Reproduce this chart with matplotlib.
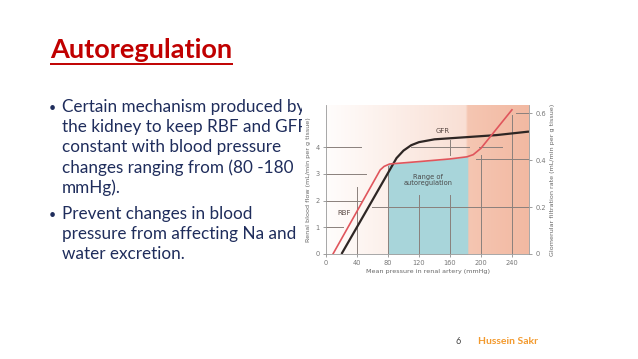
import numpy as np
import matplotlib
matplotlib.use("Agg")
import matplotlib.pyplot as plt
from matplotlib.colors import LinearSegmentedColormap

# ---------------- data ----------------
title = "Autoregulation"
bullets = [
    ["Certain mechanism produced by", "the kidney to keep RBF and GFR", "constant with blood pressure",
     "changes ranging from (80 -180", "mmHg)."],
    ["Prevent changes in blood", "pressure from affecting Na and", "water excretion."],
]
page_number = "6"
author = "Hussein Sakr"

# RBF (left axis, mL/min per g tissue) vs mean renal artery pressure (mmHg)
rbf_pressure = [9, 40, 70, 75, 82, 120, 160, 182, 190, 200, 240]
rbf_flow = [0.0, 1.6, 3.15, 3.28, 3.37, 3.46, 3.56, 3.64, 3.72, 3.96, 5.4]
# GFR (right axis, mL/min per g tissue)
gfr_pressure = [20, 50, 91, 100, 110, 120, 140, 180, 220, 262]
gfr_rate = [0.0, 0.172, 0.408, 0.440, 0.463, 0.476, 0.488, 0.497, 0.506, 0.521]

autoreg_range = [80, 183]
x_ticks = [0, 40, 80, 120, 160, 200, 240]
y_left_ticks = [0, 1, 2, 3, 4]
y_right_ticks = [0, 0.2, 0.4, 0.6]
y_right_labels = ["0", "0.2", "0.4", "0.6"]

W, H = 638, 359
fig = plt.figure(figsize=(W / 100, H / 100), dpi=100)
fig.patch.set_facecolor("white")

def fx(px):
    return px / W

def fy(py):
    return 1 - py / H

# ---------- slide text (background layer) ----------
bg = fig.add_axes([0, 0, 1, 1], zorder=0)
bg.set_xlim(0, W)
bg.set_ylim(H, 0)
bg.axis("off")

bg.text(50, 58, title, fontsize=19.5, fontweight="bold", color="#c00000",
        family="Lato", va="baseline", ha="left")
bg.plot([50, 233], [64, 64], color="#c00000", lw=1.4, solid_capstyle="butt")

navy = "#1f2d5c"
line_h = 20.2
y0 = 112
for bi, lines in enumerate(bullets):
    for li, ln in enumerate(lines):
        if li == 0:
            bg.text(49, y0, "\u2022", fontsize=9, color=navy, family="Lato",
                    va="baseline", ha="left")
        bg.text(62, y0, ln, fontsize=12.3, color=navy, family="Lato",
                va="baseline", ha="left")
        y0 += line_h
    y0 += 6

bg.text(456, 344, page_number, fontsize=6.5, color="#444444", family="Lato",
        va="baseline", ha="left")
bg.text(478, 344, author, fontsize=7.5, color="#f39a2e", fontweight="bold",
        family="Lato", va="baseline", ha="left")

# ---------- chart picture (white panel covers clipped text) ----------
panel = fig.add_axes([fx(302), fy(292), fx(580 - 302), (292 - 95) / H], zorder=1)
panel.set_facecolor("white")
panel.set_xticks([])
panel.set_yticks([])
for s in panel.spines.values():
    s.set_visible(False)

L, R, T, B = 326, 529, 105, 254
ax = fig.add_axes([fx(L), fy(B), fx(R - L), (B - T) / H], zorder=2)
xmax = 262
ymax_left = 5.58
scale = 0.2 / 1.76  # right units per left unit
ax.set_xlim(0, xmax)
ax.set_ylim(0, ymax_left)

# gradient background
cmap = LinearSegmentedColormap.from_list(
    "bgc", [(0, "#fffdfc"), (0.69, "#f9dfd4"), (0.70, "#f5c6b2"), (1.0, "#f2b9a2")])
grad = np.linspace(0, 1, 400).reshape(1, -1)
ax.imshow(grad, extent=[0, xmax, 0, ymax_left], aspect="auto", cmap=cmap,
          origin="lower", zorder=0)

# teal autoregulation range
xr = np.linspace(autoreg_range[0], autoreg_range[1], 100)
ax.fill_between(xr, 0, np.interp(xr, rbf_pressure, rbf_flow), color="#a8d5da", zorder=1,
                lw=0)

gc = "#8a807c"
glw = 0.7
hsegs = [(4, 0, 45), (3, 0, 52), (2, 0, 46), (1, 0, 22), (1.775, 59, 262),
         (3.55, 194, 262), (4.0, 110, 185), (4.0, 198, 227), (5.28, 245, 262)]
for yy, x1, x2 in hsegs:
    ax.plot([x1, x2], [yy, yy], color=gc, lw=glw, zorder=2)
vsegs = [(40, 0, 2.5), (80, 0, 3.3), (120, 0, 2.2), (160, 0, 2.2), (160, 3.7, 4.27),
         (200, 0, 3.7), (240, 0, 5.2)]
for xx, y1, y2 in vsegs:
    ax.plot([xx, xx], [y1, y2], color=gc, lw=glw, zorder=2)

# curves
ax.plot(gfr_pressure, np.array(gfr_rate) / scale, color="#2e2624", lw=1.6, zorder=4,
        solid_capstyle="butt")
ax.plot(rbf_pressure, rbf_flow, color="#e0555c", lw=1.2, zorder=5)

ax.text(150, 4.62, "GFR", fontsize=5, color="#5a4a45", ha="center", va="center", zorder=6)
ax.text(24, 1.53, "RBF", fontsize=5, color="#5a4a45", ha="center", va="center", zorder=6)
ax.text(132, 2.77, "Range of\nautoregulation", fontsize=4.8, color="#4a4a4a",
        ha="center", va="center", zorder=6, linespacing=1.0)

tc = "#777777"
ax.set_xticks(x_ticks)
ax.set_xticklabels([str(v) for v in x_ticks])
ax.set_yticks(y_left_ticks)
ax.tick_params(axis="both", labelsize=4.8, colors=tc, length=2.5, width=0.5, pad=2)
for s in ["top", "right"]:
    ax.spines[s].set_visible(False)
for s in ["left", "bottom"]:
    ax.spines[s].set_color("#999999")
    ax.spines[s].set_linewidth(0.6)
ax.set_xlabel("Mean pressure in renal artery (mmHg)", fontsize=4.6, color="#666666",
              labelpad=2)
ax.set_ylabel("Renal blood flow (mL/min per g tissue)", fontsize=4.6, color="#666666",
              labelpad=3)

ax2 = ax.twinx()
ax2.set_ylim(0, ymax_left * scale)
ax2.set_yticks(y_right_ticks)
ax2.set_yticklabels(y_right_labels)
ax2.tick_params(axis="y", labelsize=4.8, colors=tc, length=2.5, width=0.5, pad=2)
for s in ["top", "left", "bottom"]:
    ax2.spines[s].set_visible(False)
ax2.spines["right"].set_color("#999999")
ax2.spines["right"].set_linewidth(0.6)
ax2.set_ylabel("Glomerular filtration rate (mL/min per g tissue)", fontsize=4.6,
               color="#666666", labelpad=3)

fig.savefig("out.png", dpi=100, facecolor="white")
